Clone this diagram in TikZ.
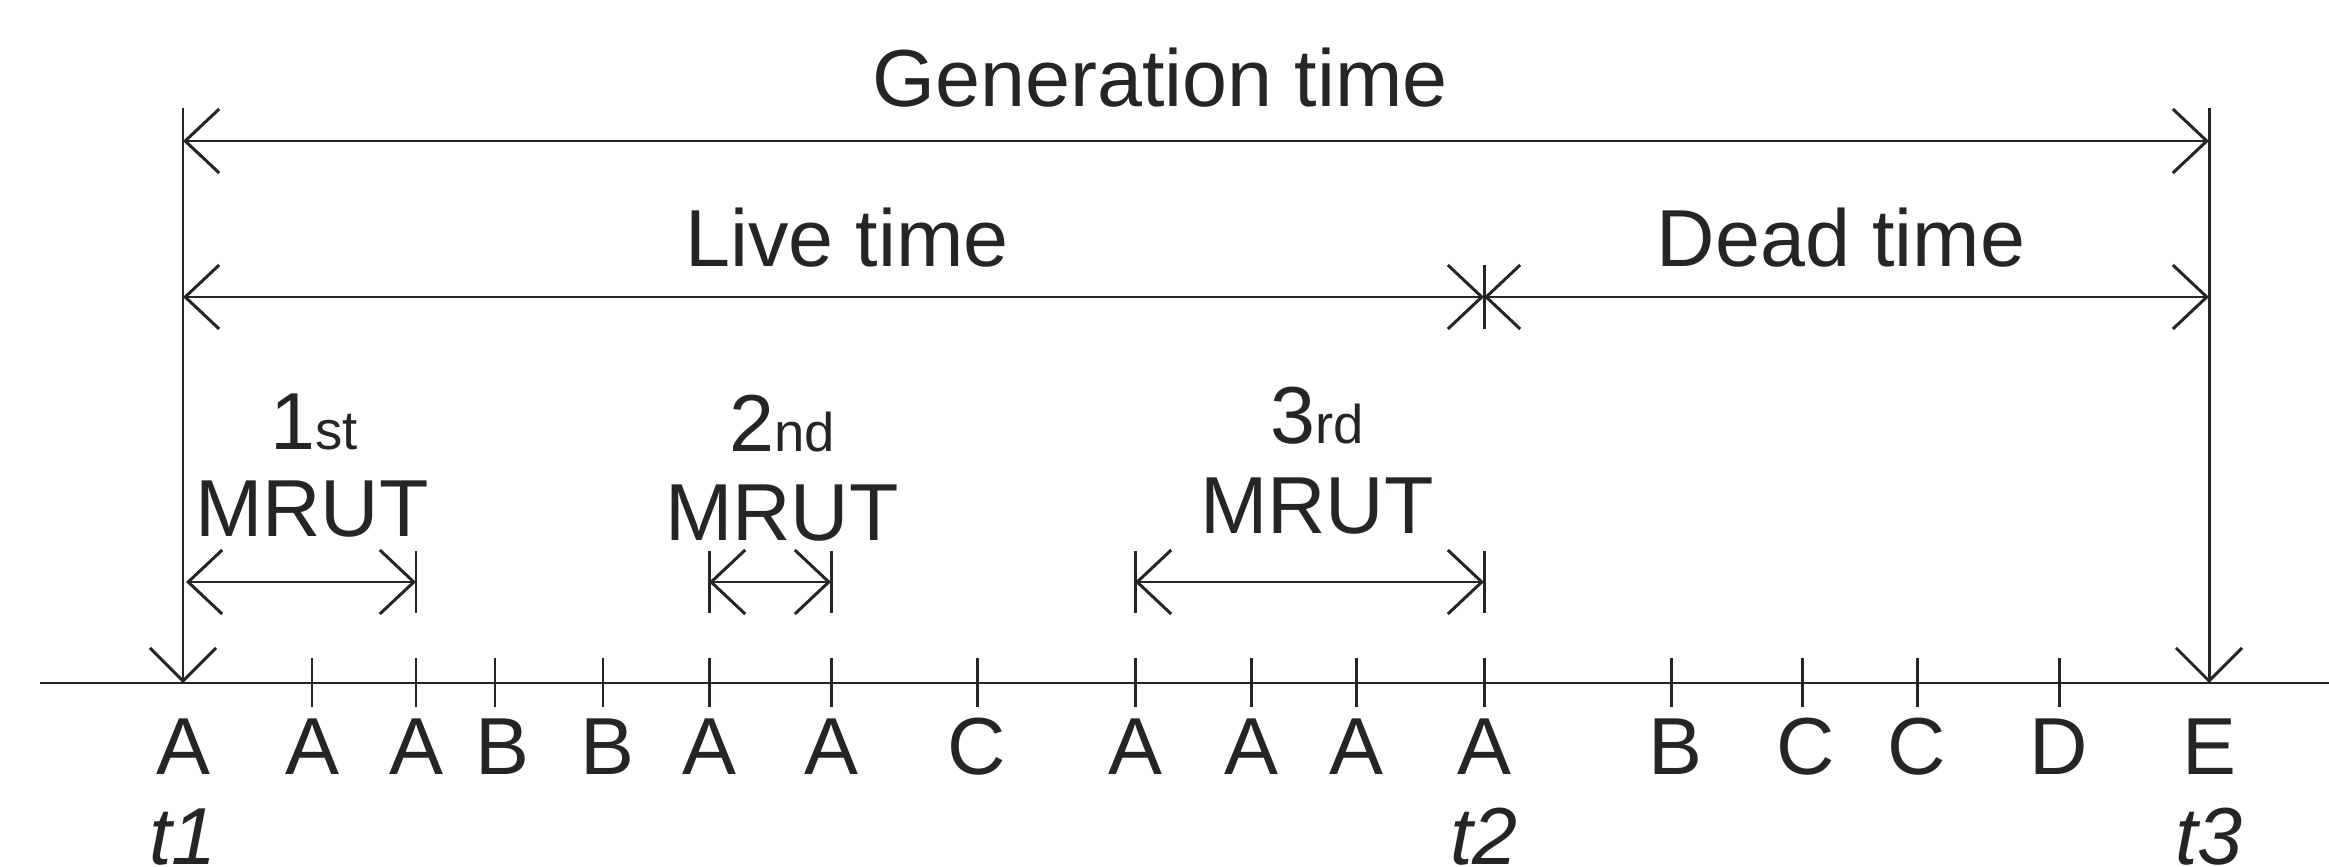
\documentclass[tikz,border=0pt]{standalone}
\usepackage{fontspec}
\setmainfont{Liberation Sans}
\usetikzlibrary{arrows.meta}
\definecolor{ink}{RGB}{38,36,36}
\begin{document}
\begin{tikzpicture}[x=0.01cm,y=-0.01cm,
  ink line/.style={draw=ink,line width=0.85pt},
  span/.style={ink line,arrows={Straight Barb[length=3.4mm,width=6.4mm]-Straight Barb[length=3.4mm,width=6.4mm]}},
  down/.style={ink line,arrows={-Straight Barb[length=3.3mm,width=6.6mm]}},
  big/.style={text=ink,inner sep=0pt,anchor=base,font=\fontsize{23pt}{27pt}\selectfont},
  letter/.style={big},
  tlabel/.style={big,font=\fontsize{23pt}{27pt}\selectfont\itshape}]
\newcommand{\sml}[1]{{\fontsize{15.5pt}{18pt}\selectfont #1}}
\useasboundingbox (0,0) rectangle (2329,867);

% time axis
\coordinate (axL) at (40,683);
\coordinate (axR) at (2329,683);
\draw[ink line] (axL) -- (axR);

% events on the axis with their letters
\foreach \x/\lab/\dx [count=\i] in {183/A/0, 312/A/0, 416/A/0, 495/B/7, 603/B/4,
    709/A/0, 831/A/0, 977/C/0, 1135/A/0, 1251/A/0, 1356/A/0, 1484/A/0,
    1671/B/4, 1802/C/4, 1917/C/0, 2059/D/0, 2209/E/0} {
  \coordinate (ev\i) at (\x,683);
  \node[letter] (lab\i) at (\x+\dx,774) {\lab};
}
% tick marks
\foreach \x in {312,416,495,603,709,831,977,1135,1251,1356,1484,1671,1802,1917,2059}
  \draw[ink line] (\x,658) -- (\x,707);

% time stamps
\node[tlabel] (t1) at (183,864) {t1};
\node[tlabel] (t2) at (1484,864) {t2};
\node[tlabel] (t3) at (2209,864) {t3};

% vertical markers at t1 and t3
\coordinate (top1) at (183,108);
\coordinate (top3) at (2209,108);
\draw[down] (top1) -- (ev1);
\draw[down] (top3) -- (ev17);

% generation time
\coordinate (g1) at (183,141);
\coordinate (g3) at (2209,141);
\draw[span] (g1) -- (g3);
\node[big] (gen) at (1160,107) {Generation time};

% live and dead time
\coordinate (v1) at (183,297);
\coordinate (v2) at (1484,297);
\coordinate (v3) at (2209,297);
\coordinate (v2t) at (1484,265);
\coordinate (v2b) at (1484,329);
\draw[span] (v1) -- (v2);
\draw[span] (v2) -- (v3);
\draw[ink line] (v2t) -- (v2b);
\node[big] (live) at (847,267) {Live time};
\node[big] (dead) at (1841,267) {Dead time};

% MRUT intervals
\coordinate (m1a) at (186,582);
\coordinate (m1b) at (416,582);
\coordinate (m2a) at (709,582);
\coordinate (m2b) at (831,582);
\coordinate (m3a) at (1135,582);
\coordinate (m3b) at (1484,582);
\draw[span] (m1a) -- (m1b);
\draw[span] (m2a) -- (m2b);
\draw[span] (m3a) -- (m3b);
\foreach \x in {416,709,831,1135,1484}
  \draw[ink line] (\x,551) -- (\x,613);

\node[big] (n1) at (314,449) {1\sml{st}};
\node[big] (r1) at (312,537) {MRUT};
\node[big] (n2) at (782,452) {2\sml{nd}};
\node[big] (r2) at (782,541) {MRUT};
\node[big] (n3) at (1317,444) {3\sml{rd}};
\node[big] (r3) at (1317,534) {MRUT};
\end{tikzpicture}
\end{document}
